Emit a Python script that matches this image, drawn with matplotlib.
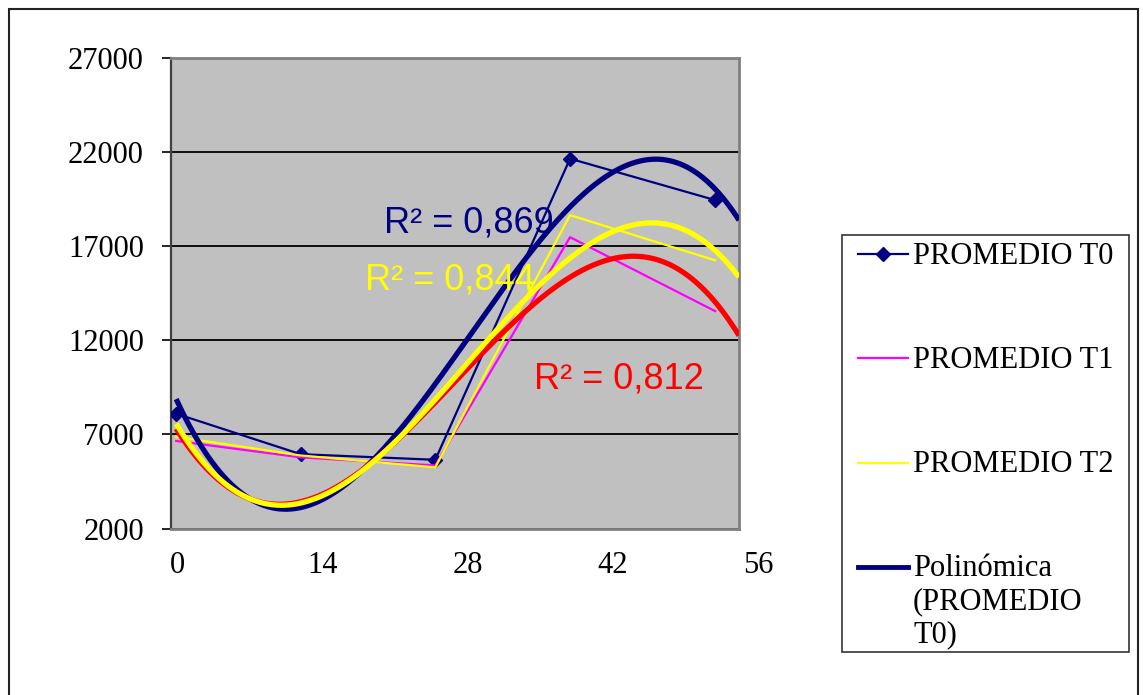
import numpy as np
import matplotlib
matplotlib.use("Agg")
import matplotlib.pyplot as plt
from matplotlib.lines import Line2D
from matplotlib.patches import Rectangle
import matplotlib.transforms as mtransforms

# ---- data ----
days = [0, 12, 25, 38, 52]
t0 = [8100, 5950, 5650, 21650, 19450]
t1 = [6650, 5780, 5350, 17480, 13550]
t2 = [6870, 5880, 5250, 18650, 16250]
series_names = ["PROMEDIO T0", "PROMEDIO T1", "PROMEDIO T2"]
trend_label = "Polinómica\n(PROMEDIO\nT0)"
r2_labels = ["R² = 0,869", "R² = 0,812", "R² = 0,844"]
y_ticks = [2000, 7000, 12000, 17000, 22000, 27000]
x_tick_labels = [0, 14, 28, 42, 56]

W, H = 1143, 695
fig = plt.figure(figsize=(W / 100, H / 100), dpi=100)
fig.patch.set_facecolor("white")

def fx(px):
    return px / W

def fy(py):
    return 1 - py / H

left, right, top, bottom = 171, 739, 58, 528.5
ax = fig.add_axes([fx(left), fy(bottom), fx(right) - fx(left), fy(top) - fy(bottom)])
ax.set_facecolor("#C0C0C0")
ax.set_xlim(-0.5, 54.3)
ax.set_ylim(2000, 27000)

serif = ["Liberation Serif", "DejaVu Serif"]
sans = ["Liberation Sans", "DejaVu Sans"]

ax.set_yticks(y_ticks)
ax.set_yticklabels([str(v) for v in y_ticks], fontfamily=serif, fontsize=22)
ax.tick_params(axis="y", direction="out", length=6.5, width=1.2, color="black", pad=13)
ax.set_xticks([])
ax.grid(axis="y", color="black", linewidth=1.3)
ax.set_axisbelow(True)
for s in ["top", "right", "bottom"]:
    ax.spines[s].set_color("#808080")
    ax.spines[s].set_linewidth(2)
ax.spines["left"].set_color("#404040")
ax.spines["left"].set_linewidth(1.6)

trans = mtransforms.blended_transform_factory(ax.transData, ax.transAxes)
for v in x_tick_labels:
    ax.text(v + 0.15, -0.078, str(v), transform=trans, ha="center", va="center",
            fontfamily=serif, fontsize=22, clip_on=False)

# data lines
ax.plot(days, t0, color="#000080", lw=1.6, marker="D", markersize=7, zorder=3)
ax.plot(days, t1, color="#FF00FF", lw=1.6, zorder=3)
ax.plot(days, t2, color="#FFFF00", lw=1.6, zorder=3)

# polynomial (order 3) trendlines
xs = np.linspace(0, 54.3, 300)
trend_colors = ["#000080", "#FF0000", "#FFFF00"]
for ys, c in zip([t0, t1, t2], trend_colors):
    coef = np.polyfit(days, ys, 3)
    ax.plot(xs, np.polyval(coef, xs), color=c, lw=3.8, zorder=4, solid_capstyle="butt")

# R² labels
ax.text(28.2, 18250, r2_labels[0], color="#000080", fontfamily=sans, fontsize=26,
        ha="center", va="center", zorder=5)
ax.text(42.7, 9950, r2_labels[1], color="#FF0000", fontfamily=sans, fontsize=26,
        ha="center", va="center", zorder=5)
ax.text(26.4, 15200, r2_labels[2], color="#FFFF00", fontfamily=sans, fontsize=26,
        ha="center", va="center", zorder=5)

# legend (drawn manually)
fig.patches.append(Rectangle((fx(842), fy(652)), fx(1129) - fx(842), fy(235) - fy(652),
                             transform=fig.transFigure, fill=False, edgecolor="#333333",
                             lw=1.2))
rows = [254, 358, 463, 567]
handles = [("#000080", 1.6, "D"), ("#FF00FF", 1.6, None), ("#FFFF00", 1.6, None),
           ("#000080", 3.5, None)]
labels = series_names + [trend_label]
for ry, (c, lw, m), lab in zip(rows, handles, labels):
    fig.lines.append(Line2D([fx(858), fx(908)], [fy(ry), fy(ry)], transform=fig.transFigure,
                            color=c, lw=lw))
    if m:
        fig.lines.append(Line2D([fx(883)], [fy(ry)], transform=fig.transFigure, color=c,
                                marker=m, markersize=7, lw=0))
    for i, line in enumerate(lab.split("\n")):
        fig.text(fx(913), fy(ry + 2 + i * 33), line, fontfamily=serif, fontsize=22,
                 ha="left", va="center")

# outer chart border
fig.patches.append(Rectangle((fx(9), fy(700)), fx(1138) - fx(9), fy(9) - fy(700),
                             transform=fig.transFigure, fill=False, edgecolor="#222222",
                             lw=1.5))

fig.savefig("out.png", dpi=100)
